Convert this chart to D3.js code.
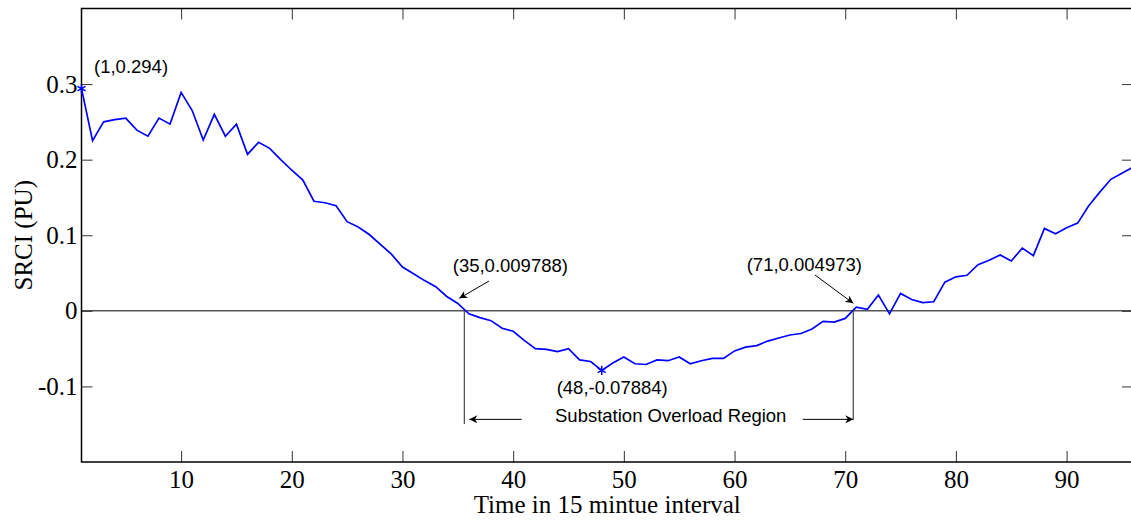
<!DOCTYPE html>
<html>
<head>
<meta charset="utf-8">
<script src="https://cdn.jsdelivr.net/npm/d3@7"></script>
<style>
  body { margin: 0; background: #fff; }
  svg { display: block; }
</style>
</head>
<body>
<div id="chart"></div>
<script>
// SRCI per 15 minute interval, index 1..96
const srci = [
    0.294, 0.225, 0.250, 0.253, 0.255, 0.239, 0.231, 0.255, 0.247, 0.289,
    0.265, 0.226, 0.260, 0.231, 0.247, 0.207, 0.223, 0.215, 0.200, 0.186,
    0.173, 0.145, 0.143, 0.139, 0.118, 0.111, 0.101, 0.088, 0.075, 0.058,
    0.049, 0.040, 0.032, 0.019, 0.0098, -0.004, -0.009, -0.013, -0.023, -0.027,
    -0.039, -0.050, -0.051, -0.054, -0.050, -0.065, -0.067, -0.0788, -0.069, -0.061,
    -0.070, -0.071, -0.065, -0.066, -0.061, -0.070, -0.066, -0.063, -0.063, -0.053,
    -0.048, -0.046, -0.040, -0.036, -0.032, -0.030, -0.024, -0.014, -0.015, -0.010,
    0.005, 0.002, 0.021, -0.004, 0.023, 0.015, 0.011, 0.012, 0.038, 0.045,
    0.047, 0.061, 0.067, 0.074, 0.066, 0.083, 0.073, 0.109, 0.102, 0.110,
    0.116, 0.139, 0.157, 0.174, 0.182, 0.190,
];
const xTicks = [10, 20, 30, 40, 50, 60, 70, 80, 90];
const yTicks = [-0.1, 0, 0.1, 0.2, 0.3];
const yTickLabels = ['-0.1', '0', '0.1', '0.2', '0.3'];
const markedPoints = [1, 48];

// data tips and the overload region note, in data units
const labels = [
    { x: 2.13, y: 0.3146, text: '(1,0.294)' },
    { x: 34.54, y: 0.052, text: '(35,0.009788)' },
    { x: 61.10, y: 0.0533, text: '(71,0.004973)' },
    { x: 43.93, y: -0.110, text: '(48,-0.07884)' },
    { x: 43.78, y: -0.1469, text: 'Substation Overload Region' },
];
const arrows = [
    { x1: 37.81, y1: 0.0394, x2: 35.13, y2: 0.0165 },
    { x1: 67.27, y1: 0.0474, x2: 70.73, y2: 0.0099 },
    { x1: 40.77, y1: -0.1436, x2: 36.04, y2: -0.1436 },
    { x1: 66.16, y1: -0.1436, x2: 70.73, y2: -0.1436 },
];
const regionBounds = [
    { x: 35.59, y0: 0, y1: -0.1498 },
    { x: 70.73, y0: 0, y1: -0.1438 },
];

const width = 1131;
const height = 521;
const plot = { left: 81.5, right: 1133, top: 8.5, bottom: 462 };
const serif = '"Liberation Serif", "Times New Roman", serif';
const sans = '"Liberation Sans", Arial, sans-serif';

const x = d3.scaleLinear().domain([1, 96]).range([plot.left, plot.right]);
const y = d3.scaleLinear().domain([-0.2, 0.4]).range([plot.bottom, plot.top]);

const svg = d3.select('#chart')
    .append('svg')
    .attr('width', width)
    .attr('height', height);

svg.append('rect')
    .attr('width', width)
    .attr('height', height)
    .attr('fill', '#fff');

const defs = svg.append('defs');
defs.append('marker')
    .attr('id', 'head')
    .attr('viewBox', '0 0 10 10')
    .attr('refX', 10)
    .attr('refY', 5)
    .attr('markerUnits', 'userSpaceOnUse')
    .attr('markerWidth', 11)
    .attr('markerHeight', 8)
    .attr('orient', 'auto')
    .append('path')
    .attr('d', 'M0,0 L10,5 L0,10 L3,5 Z')
    .attr('fill', '#000');

// zero line
svg.append('line')
    .attr('x1', x(1))
    .attr('x2', x(96))
    .attr('y1', y(0))
    .attr('y2', y(0))
    .attr('stroke', '#000')
    .attr('stroke-width', 1);

// axes with inward ticks on all four sides
function styleAxis(g) {
    g.select('.domain').remove();
    g.selectAll('.tick line').attr('stroke', '#333').attr('stroke-width', 1);
    g.selectAll('.tick text')
        .attr('fill', '#000')
        .style('font-family', serif)
        .style('font-size', '25px');
}

svg.append('g')
    .attr('transform', `translate(0, ${plot.bottom})`)
    .call(d3.axisBottom(x).tickValues(xTicks).tickSizeInner(-11).tickSizeOuter(0).tickPadding(8))
    .call(styleAxis);

svg.append('g')
    .attr('transform', `translate(0, ${plot.top})`)
    .call(d3.axisTop(x).tickValues(xTicks).tickSizeInner(-11).tickSizeOuter(0).tickFormat(''))
    .call(styleAxis);

svg.append('g')
    .attr('transform', `translate(${plot.left}, 0)`)
    .call(d3.axisLeft(y).tickValues(yTicks).tickSizeInner(-11).tickSizeOuter(0).tickPadding(4)
        .tickFormat((d, i) => yTickLabels[i]))
    .call(styleAxis);

svg.append('g')
    .attr('transform', `translate(${plot.right}, 0)`)
    .call(d3.axisRight(y).tickValues(yTicks).tickSizeInner(-11).tickSizeOuter(0).tickFormat(''))
    .call(styleAxis);

// frame
svg.append('rect')
    .attr('x', plot.left)
    .attr('y', plot.top)
    .attr('width', plot.right - plot.left)
    .attr('height', plot.bottom - plot.top)
    .attr('fill', 'none')
    .attr('stroke', '#000')
    .attr('stroke-width', 1.5);

// series
const line = d3.line()
    .x((d, i) => x(i + 1))
    .y(d => y(d));

svg.append('path')
    .datum(srci)
    .attr('d', line)
    .attr('fill', 'none')
    .attr('stroke', '#0000ff')
    .attr('stroke-width', 1.7);

svg.append('g')
    .selectAll('path')
    .data(markedPoints)
    .enter()
    .append('path')
    .attr('transform', d => `translate(${x(d)}, ${y(srci[d - 1])})`)
    .attr('d', d3.symbol(d3.symbolAsterisk, 60))
    .attr('fill', 'none')
    .attr('stroke', '#0000ff')
    .attr('stroke-width', 1.5);

// overload region
svg.append('g')
    .selectAll('line')
    .data(regionBounds)
    .enter()
    .append('line')
    .attr('x1', d => x(d.x))
    .attr('x2', d => x(d.x))
    .attr('y1', d => y(d.y0))
    .attr('y2', d => y(d.y1))
    .attr('stroke', '#555')
    .attr('stroke-width', 1.3);

svg.append('g')
    .selectAll('line')
    .data(arrows)
    .enter()
    .append('line')
    .attr('x1', d => x(d.x1))
    .attr('y1', d => y(d.y1))
    .attr('x2', d => x(d.x2))
    .attr('y2', d => y(d.y2))
    .attr('stroke', '#000')
    .attr('stroke-width', 1)
    .attr('marker-end', 'url(#head)');

svg.append('g')
    .selectAll('text')
    .data(labels)
    .enter()
    .append('text')
    .attr('x', d => x(d.x))
    .attr('y', d => y(d.y))
    .style('font-family', sans)
    .style('font-size', '18.5px')
    .attr('fill', '#000')
    .text(d => d.text);

// axis titles
svg.append('text')
    .attr('x', (plot.left + plot.right) / 2)
    .attr('y', 513)
    .attr('text-anchor', 'middle')
    .style('font-family', serif)
    .style('font-size', '25px')
    .text('Time in 15 mintue interval');

svg.append('text')
    .attr('transform', `translate(31.5, ${(plot.top + plot.bottom) / 2}) rotate(-90)`)
    .attr('text-anchor', 'middle')
    .style('font-family', serif)
    .style('font-size', '25px')
    .text('SRCI (PU)');
</script>
</body>
</html>
